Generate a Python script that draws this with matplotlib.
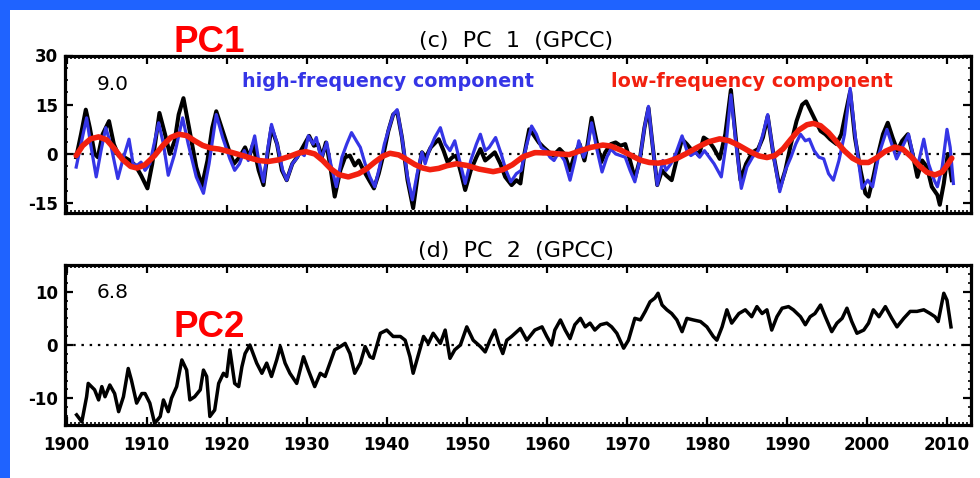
import matplotlib
matplotlib.use("Agg")
import matplotlib.pyplot as plt
from matplotlib.patches import Rectangle
from matplotlib.ticker import MultipleLocator, FixedLocator

plt.rcParams['axes.unicode_minus'] = False
plt.rcParams['font.family'] = ['DejaVu Sans']

# ---------------- data: PC1 (total, black) ----------------
pc1_years = [1901.2, 1901.8, 1902.4, 1902.9, 1903.5, 1903.9, 1904.5, 1905.3, 1905.9, 1906.5,
             1907.2, 1907.9, 1908.6, 1909.3, 1910.1, 1910.7, 1911.6, 1912.3, 1912.9, 1913.5,
             1914.0, 1914.6, 1915.3, 1916.2, 1916.9, 1917.6, 1918.2, 1918.7, 1919.5, 1920.3,
             1920.9, 1921.6, 1922.3, 1922.8, 1923.3, 1924.0, 1924.6, 1925.1, 1925.6, 1926.3,
             1926.9, 1927.5, 1928.2, 1928.8, 1929.5, 1930.3, 1930.9, 1931.4, 1931.9, 1932.4,
             1932.9, 1933.5, 1934.2, 1934.8, 1935.4, 1936.0, 1936.5, 1937.1, 1937.8, 1938.4,
             1939.0, 1939.6, 1940.2, 1940.8, 1941.3, 1941.9, 1942.6, 1943.3, 1943.9, 1944.4,
             1944.9, 1945.5, 1946.5, 1947.1, 1947.6, 1948.2, 1948.7, 1949.3, 1949.8, 1950.5,
             1951.2, 1951.7, 1952.3, 1952.8, 1953.5, 1954.2, 1954.8, 1955.6, 1956.2, 1956.7,
             1957.2, 1957.8, 1958.3, 1959.0, 1959.6, 1960.3, 1960.8, 1961.6, 1962.2, 1962.9,
             1963.5, 1964.1, 1964.7, 1965.1, 1965.6, 1966.2, 1966.8, 1967.3, 1968.0, 1968.6,
             1969.2, 1969.8, 1970.4, 1971.0, 1971.6, 1972.2, 1972.7, 1973.2, 1973.8, 1974.4,
             1974.9, 1975.6, 1976.3, 1976.9, 1977.5, 1978.0, 1978.5, 1979.0, 1979.6, 1980.2,
             1980.8, 1981.6, 1982.3, 1983.0, 1983.6, 1984.2, 1984.9, 1985.7, 1986.4, 1987.0,
             1987.6, 1988.3, 1989.1, 1989.8, 1990.5, 1991.2, 1991.9, 1992.4, 1993.0, 1993.6,
             1994.2, 1994.8, 1995.4, 1996.2, 1996.8, 1997.3, 1997.9, 1998.5, 1999.2, 1999.8,
             2000.2, 2000.8, 2001.4, 2002.0, 2002.6, 2003.2, 2003.8, 2004.4, 2005.1, 2005.7,
             2006.3, 2006.9, 2007.5, 2008.1, 2008.8, 2009.1, 2009.6, 2010.1, 2010.6]
pc1_total = [-1.0, 6.0, 13.5, 8.0, 0.0, -1.0, 6.0, 10.0, 3.0, -0.5,
             -1.0, -2.0, -3.5, -6.5, -10.5, -3.0, 12.5, 6.0, 0.0, 4.0,
             12.0, 17.0, 8.0, -4.0, -9.8, -2.0, 8.0, 13.0, 7.0, 1.0,
             -3.0, -1.0, 2.0, -1.0, 3.0, -5.0, -9.5, 0.0, 8.0, 3.0,
             -5.0, -8.0, -3.0, -1.0, 2.0, 5.5, 2.5, 3.0, -1.0, 3.5,
             -3.0, -13.0, -5.0, -1.0, -0.5, -3.5, -2.0, -5.0, -8.0, -10.5,
             -6.0, 0.0, 7.0, 12.0, 13.0, 5.0, -8.0, -16.5, -6.0, 0.5,
             -1.0, 2.0, 4.5, 1.0, -2.5, -1.0, -0.5, -6.0, -11.0, -5.0,
             -1.0, 1.5, -2.0, -1.0, 0.5, -3.0, -7.0, -9.5, -8.0, -9.0,
             0.0, 7.5, 6.0, 3.5, 2.0, 0.5, -0.5, 1.5, 0.0, -5.0,
             0.0, 3.0, -2.0, 3.0, 11.0, 4.0, -2.5, 0.5, 3.0, 3.5,
             2.5, 3.0, -2.0, -7.5, -2.0, 8.0, 14.0, 3.0, -9.5, -5.0,
             -6.5, -8.0, -1.0, 4.5, 3.0, 1.5, 1.0, -0.5, 5.0, 4.0,
             2.0, -1.5, 6.0, 19.5, 5.0, -8.0, -3.0, 0.5, 1.5, 5.0,
             11.5, 0.0, -10.5, -5.0, 3.0, 10.0, 15.0, 16.0, 13.0, 10.0,
             7.0, 6.0, 4.5, 3.0, 6.0, 12.0, 19.0, 5.0, -5.0, -12.0,
             -13.0, -7.0, 0.0, 6.0, 9.5, 5.0, 1.0, 4.0, 6.0, 0.0,
             -7.0, -2.0, -4.0, -10.0, -12.5, -15.5, -9.0, 0.0, -8.0]

# ---------------- data: PC1 high-frequency component (blue) ----------------
hf_years = [1901.2, 1901.8, 1902.5, 1903.0, 1903.7, 1904.3, 1904.9, 1905.5, 1906.4, 1907.0,
            1907.8, 1908.3, 1908.8, 1909.3, 1909.8, 1910.4, 1911.5, 1912.1, 1912.7, 1913.5,
            1914.5, 1915.2, 1916.2, 1917.1, 1917.8, 1918.7, 1919.5, 1920.4, 1921.0, 1921.6,
            1922.2, 1922.7, 1923.5, 1924.0, 1924.6, 1925.1, 1925.6, 1926.3, 1927.0, 1927.5,
            1928.2, 1928.7, 1929.2, 1929.7, 1930.2, 1930.8, 1931.2, 1931.8, 1932.5, 1933.0,
            1933.7, 1934.4, 1935.0, 1935.6, 1936.2, 1936.7, 1937.3, 1937.9, 1938.5, 1939.1,
            1939.7, 1940.3, 1940.8, 1941.3, 1941.9, 1942.6, 1943.2, 1943.8, 1944.4, 1944.8,
            1945.3, 1946.0, 1946.7, 1947.3, 1947.9, 1948.5, 1949.1, 1949.8, 1950.5, 1951.2,
            1951.7, 1952.3, 1952.8, 1953.6, 1954.3, 1954.9, 1955.5, 1956.2, 1956.8, 1957.4,
            1958.1, 1958.7, 1959.3, 1959.9, 1960.4, 1960.9, 1961.5, 1962.2, 1962.9, 1963.5,
            1964.0, 1964.6, 1965.1, 1965.6, 1966.2, 1966.9, 1967.5, 1968.0, 1968.6, 1969.2,
            1969.8, 1970.4, 1971.0, 1971.6, 1972.2, 1972.7, 1973.2, 1973.8, 1974.5, 1974.9,
            1975.5, 1976.1, 1976.9, 1977.5, 1978.0, 1978.6, 1979.1, 1979.7, 1980.3, 1980.9,
            1981.8, 1982.4, 1983.0, 1983.6, 1984.3, 1985.0, 1985.7, 1986.4, 1987.0, 1987.6,
            1988.3, 1989.1, 1989.8, 1990.5, 1991.1, 1991.7, 1992.3, 1992.8, 1993.4, 1994.0,
            1994.6, 1995.2, 1995.8, 1996.5, 1997.2, 1997.9, 1998.5, 1999.4, 2000.1, 2000.7,
            2001.5, 2002.5, 2003.1, 2003.7, 2004.4, 2005.2, 2005.8, 2006.4, 2007.1, 2007.7,
            2008.4, 2008.8, 2009.4, 2010.0, 2010.4, 2010.8]
pc1_high = [-4.0, 3.0, 11.0, 3.0, -7.0, 1.0, 8.0, 3.0, -7.5, -2.0,
            4.5, -3.0, -3.5, -2.5, -5.0, -3.0, 9.5, 3.0, -6.5, 0.0,
            11.0, 3.0, -7.0, -12.0, -3.0, 12.0, 5.0, -1.5, -5.0, -3.0,
            1.0, -2.0, 5.5, -2.0, -8.5, 1.0, 9.0, 3.0, -5.0, -8.0,
            -3.0, -1.5, 0.5, -0.5, 5.5, 3.0, 5.0, -1.5, 3.5, -3.0,
            -10.0, -1.0, 3.0, 6.5, 4.0, 2.0, -3.0, -7.0, -10.0, -4.0,
            3.0, 8.0, 12.0, 13.5, 5.0, -7.0, -14.0, -6.0, 0.5, -3.0,
            1.0, 5.0, 8.0, 3.0, 1.0, 4.0, -2.0, -9.0, -2.0, 3.0,
            6.0, 1.0, 2.0, 5.0, 0.0, -5.0, -8.5, -6.0, -5.0, 2.0,
            8.5, 6.0, 2.0, 1.0, -1.0, -2.0, 0.5, -2.0, -8.0, -2.0,
            4.0, -1.0, 2.0, 9.5, 2.0, -5.5, -1.0, 1.5, 0.0, -0.5,
            -1.0, -5.0, -8.5, -2.0, 8.0, 14.5, 3.0, -9.5, -2.0, -5.0,
            -3.0, 0.0, 5.5, 1.0, -0.5, 0.5, -1.0, 1.0, -1.0, -3.0,
            -7.0, 3.0, 18.0, 4.0, -10.5, -4.0, -1.0, 1.0, 6.0, 12.0,
            0.0, -11.5, -5.0, -1.0, 3.0, 6.0, 4.0, 4.5, 1.0, -1.0,
            -1.5, -6.0, -8.0, -2.0, 6.0, 20.0, 6.0, -10.5, -8.0, -10.0,
            0.0, 7.5, 3.0, -1.5, 2.0, 6.0, -1.0, -3.0, 4.5, -3.0,
            -8.0, -10.0, -4.0, 7.5, 2.0, -9.0]

# ---------------- data: PC1 low-frequency component (red) ----------------
lf_years = [1901.2, 1902.0, 1903.0, 1904.0, 1905.0, 1906.0, 1907.0, 1908.0, 1908.8, 1909.8,
            1911.0, 1912.0, 1913.0, 1914.0, 1915.0, 1916.0, 1917.0, 1918.0, 1919.0, 1920.0,
            1921.0, 1922.0, 1923.0, 1924.0, 1925.2, 1926.5, 1927.8, 1929.0, 1929.9, 1931.0,
            1932.0, 1933.0, 1934.0, 1935.2, 1936.5, 1937.5, 1938.5, 1939.5, 1940.4, 1941.5,
            1942.5, 1943.5, 1944.5, 1945.4, 1946.5, 1947.5, 1948.7, 1950.0, 1951.5, 1953.3,
            1954.5, 1955.7, 1957.0, 1958.5, 1960.0, 1961.5, 1962.8, 1964.0, 1965.5, 1967.0,
            1968.0, 1969.2, 1970.5, 1971.7, 1972.8, 1973.9, 1975.0, 1976.3, 1977.5, 1978.8,
            1980.2, 1981.6, 1982.8, 1984.0, 1985.3, 1986.5, 1987.5, 1988.5, 1989.5, 1990.5,
            1991.5, 1992.5, 1993.3, 1994.2, 1995.2, 1996.2, 1997.2, 1998.2, 1999.2, 2000.2,
            2001.2, 2002.3, 2003.5, 2004.5, 2005.5, 2006.5, 2007.5, 2008.5, 2009.4, 2010.0,
            2010.6]
pc1_low = [-0.5, 2.5, 4.6, 5.2, 4.3, 1.5, -1.7, -3.8, -4.3, -3.3,
           -0.5, 2.5, 5.0, 6.0, 5.6, 4.0, 2.6, 1.8, 1.5, 0.9,
           0.2, -0.5, -1.3, -2.0, -2.3, -1.8, -0.8, 0.3, 0.7, 0.0,
           -2.0, -4.5, -6.3, -7.0, -6.0, -4.5, -2.5, -0.7, 0.2, -0.3,
           -1.7, -3.2, -4.3, -4.8, -4.4, -3.6, -3.0, -3.5, -4.6, -5.4,
           -4.8, -3.3, -0.9, 0.4, 0.3, 0.0, -0.2, 0.8, 2.0, 2.7,
           2.4, 1.2, -0.4, -1.9, -2.6, -2.8, -2.4, -1.3, 0.2, 2.0,
           3.7, 4.6, 4.0, 2.6, 0.8, -0.6, -1.1, -0.5, 1.5, 4.5,
           7.3, 8.9, 9.3, 8.6, 6.5, 3.7, 0.9, -1.3, -2.6, -2.6,
           -1.2, 0.8, 2.1, 1.4, -0.8, -3.5, -5.6, -6.4, -5.5, -3.5,
           -1.3]

# ---------------- data: PC2 ----------------
pc2_years = [1901.25, 1901.9, 1902.5, 1902.7, 1903.5, 1904.0, 1904.4, 1904.8, 1905.4, 1906.0,
             1906.5, 1907.1, 1907.7, 1908.1, 1908.75, 1909.4, 1909.8, 1910.4, 1911.0, 1911.7,
             1912.1, 1912.7, 1913.1, 1913.75, 1914.4, 1915.0, 1915.4, 1916.0, 1916.7, 1917.1,
             1917.5, 1917.9, 1918.5, 1919.0, 1919.6, 1920.0, 1920.4, 1921.0, 1921.5, 1921.9,
             1922.3, 1922.9, 1923.75, 1924.4, 1925.0, 1925.6, 1926.25, 1926.7, 1927.3, 1927.9,
             1928.75, 1929.6, 1930.2, 1931.0, 1931.7, 1932.3, 1932.9, 1933.5, 1934.2, 1934.8,
             1935.4, 1936.0, 1936.7, 1937.3, 1937.9, 1938.3, 1939.2, 1940.0, 1940.8, 1941.7,
             1942.3, 1942.9, 1943.3, 1944.0, 1944.6, 1945.2, 1945.8, 1946.7, 1947.3, 1947.9,
             1948.5, 1949.2, 1950.0, 1950.8, 1951.7, 1952.3, 1952.9, 1953.5, 1954.0, 1954.5,
             1955.0, 1955.6, 1956.7, 1957.5, 1958.5, 1959.4, 1960.0, 1960.6, 1961.0, 1961.7,
             1962.3, 1962.9, 1963.5, 1964.2, 1964.8, 1965.4, 1966.0, 1966.7, 1967.5, 1968.1,
             1968.75, 1969.6, 1970.2, 1971.0, 1971.7, 1972.3, 1972.9, 1973.5, 1973.9, 1974.4,
             1975.0, 1975.6, 1976.25, 1976.9, 1977.5, 1978.3, 1979.2, 1980.0, 1980.8, 1981.25,
             1981.9, 1982.5, 1983.1, 1984.0, 1984.8, 1985.6, 1986.25, 1986.9, 1987.5, 1988.1,
             1988.75, 1989.4, 1990.2, 1990.8, 1991.7, 1992.3, 1992.9, 1993.5, 1994.2, 1994.8,
             1995.6, 1996.25, 1996.9, 1997.5, 1998.1, 1998.75, 1999.6, 2000.2, 2000.8, 2001.5,
             2002.3, 2003.1, 2003.75, 2004.6, 2005.4, 2006.25, 2007.1, 2007.9, 2008.5, 2008.9,
             2009.6, 2010.0, 2010.5]
pc2_values = [-13.1, -14.4, -9.7, -7.2, -8.4, -10.3, -7.8, -9.7, -7.5, -9.1,
              -12.5, -9.7, -4.4, -6.6, -10.9, -9.1, -9.1, -10.9, -14.7, -13.4,
              -10.3, -12.5, -10.0, -7.8, -2.8, -4.7, -10.3, -9.7, -8.4, -4.7,
              -5.9, -13.4, -12.2, -7.2, -5.3, -5.9, -0.9, -7.2, -7.8, -4.1,
              -1.6, 0.0, -3.4, -5.3, -3.4, -5.9, -2.8, -0.3, -3.4, -5.3,
              -7.2, -2.2, -4.7, -7.8, -5.3, -5.9, -3.4, -0.9, -0.3, 0.3,
              -1.6, -5.3, -3.4, -0.3, -2.2, -2.5, 2.2, 2.8, 1.6, 1.6,
              0.9, -2.2, -5.3, -1.6, 1.6, 0.3, 2.2, 0.3, 2.8, -2.5,
              -0.9, 0.0, 3.4, 0.9, -0.3, -1.3, 0.9, 2.8, 0.3, -1.6,
              0.9, 1.6, 3.1, 0.9, 2.8, 3.4, 1.6, 0.0, 2.8, 4.7,
              2.8, 1.2, 3.8, 5.0, 3.4, 4.1, 2.8, 3.8, 4.1, 3.4,
              2.2, -0.6, 0.9, 5.0, 4.7, 6.3, 8.1, 8.8, 9.7, 7.5,
              6.6, 5.9, 4.7, 2.5, 5.0, 4.7, 4.4, 3.4, 1.6, 0.9,
              3.4, 6.6, 4.1, 5.9, 6.6, 5.3, 7.2, 5.9, 6.6, 2.8,
              5.3, 6.9, 7.2, 6.6, 5.3, 3.8, 5.3, 5.9, 7.5, 5.3,
              2.5, 4.1, 5.0, 6.9, 4.4, 2.2, 2.8, 4.1, 6.6, 5.3,
              7.2, 5.0, 3.4, 5.0, 6.3, 6.3, 6.6, 5.9, 5.3, 4.4,
              9.7, 8.4, 3.4]

x_ticks = [1900, 1910, 1920, 1930, 1940, 1950, 1960, 1970, 1980, 1990, 2000, 2010]
pc1_yticks = [-15, 0, 15, 30]
pc2_yticks = [-10, 0, 10]

# ---------------- figure ----------------
W, H = 980, 478
fig = plt.figure(figsize=(W / 100, H / 100), dpi=100, facecolor='white')

def fx(px):
    return px / W

def fy(py):
    return 1 - py / H

border = '#1f63ff'
fig.patches.append(Rectangle((0, fy(10)), 1, 10 / H, transform=fig.transFigure,
                             facecolor=border, edgecolor='none', zorder=0))
fig.patches.append(Rectangle((0, 0), fx(10), 1, transform=fig.transFigure,
                             facecolor=border, edgecolor='none', zorder=0))

ax1 = fig.add_axes([fx(65), fy(213), fx(971) - fx(65), fy(55.5) - fy(213)])
ax2 = fig.add_axes([fx(65), fy(425), fx(971) - fx(65), fy(265) - fy(425)])

blue = '#3535e6'
red = '#f2200f'

ax1.plot(pc1_years, pc1_total, color='black', lw=2.9, zorder=3, solid_joinstyle='round')
ax1.plot(hf_years, pc1_high, color=blue, lw=2.3, zorder=4, solid_joinstyle='round')
ax1.plot(lf_years, pc1_low, color=red, lw=4.0, zorder=5, solid_capstyle='round')
ax2.plot(pc2_years, pc2_values, color='black', lw=2.5, zorder=3, solid_joinstyle='round')

for ax, ylim, yt, ymin in [(ax1, (-18, 30), pc1_yticks, 3.75), (ax2, (-15, 15), pc2_yticks, 10 / 6)]:
    ax.set_xlim(1899.8, 2013)
    ax.set_ylim(*ylim)
    ax.axhline(0, color='black', lw=1.6, linestyle=(0, (1.1, 2.6)), zorder=2)
    ax.xaxis.set_major_locator(FixedLocator(x_ticks))
    ax.xaxis.set_minor_locator(MultipleLocator(0.5))
    ax.yaxis.set_major_locator(FixedLocator(yt))
    ax.yaxis.set_minor_locator(MultipleLocator(ymin))
    ax.tick_params(which='both', direction='in', top=True, right=True, color='black')
    ax.tick_params(which='major', length=5.5, width=1.6, labelsize=12, pad=5)
    ax.tick_params(which='minor', length=2.5, width=1.2)
    for s in ax.spines.values():
        s.set_linewidth(2.3)
    for lab in ax.get_yticklabels() + ax.get_xticklabels():
        lab.set_fontweight('bold')
    ax.set_facecolor('white')

ax1.set_xticklabels([])
ax2.set_xticklabels([str(v) for v in x_ticks], fontweight='bold')
ax2.tick_params(axis='x', which='major', pad=8)

# titles
fig.text(fx(516), fy(47), '(c)  PC  1  (GPCC)', ha='center', va='baseline', fontsize=16)
fig.text(fx(516), fy(257), '(d)  PC  2  (GPCC)', ha='center', va='baseline', fontsize=16)

# variance numbers
fig.text(fx(97), fy(90), '9.0', ha='left', va='baseline', fontsize=14.5)
fig.text(fx(97), fy(298), '6.8', ha='left', va='baseline', fontsize=14.5)

# component labels
fig.text(fx(387.5), fy(87), 'high-frequency component', ha='center', va='baseline',
         fontsize=13.8, fontweight='bold', color=blue)
fig.text(fx(752), fy(87), 'low-frequency component', ha='center', va='baseline',
         fontsize=13.8, fontweight='bold', color=red)

# big red annotations
fig.text(fx(209), fy(52), 'PC1', ha='center', va='baseline', fontsize=26.5,
         fontweight='bold', color='#ff0000', family=['Liberation Sans', 'DejaVu Sans'])
fig.text(fx(209), fy(337), 'PC2', ha='center', va='baseline', fontsize=26.5,
         fontweight='bold', color='#ff0000', family=['Liberation Sans', 'DejaVu Sans'])

fig.savefig('out.png', dpi=100, facecolor='white')
